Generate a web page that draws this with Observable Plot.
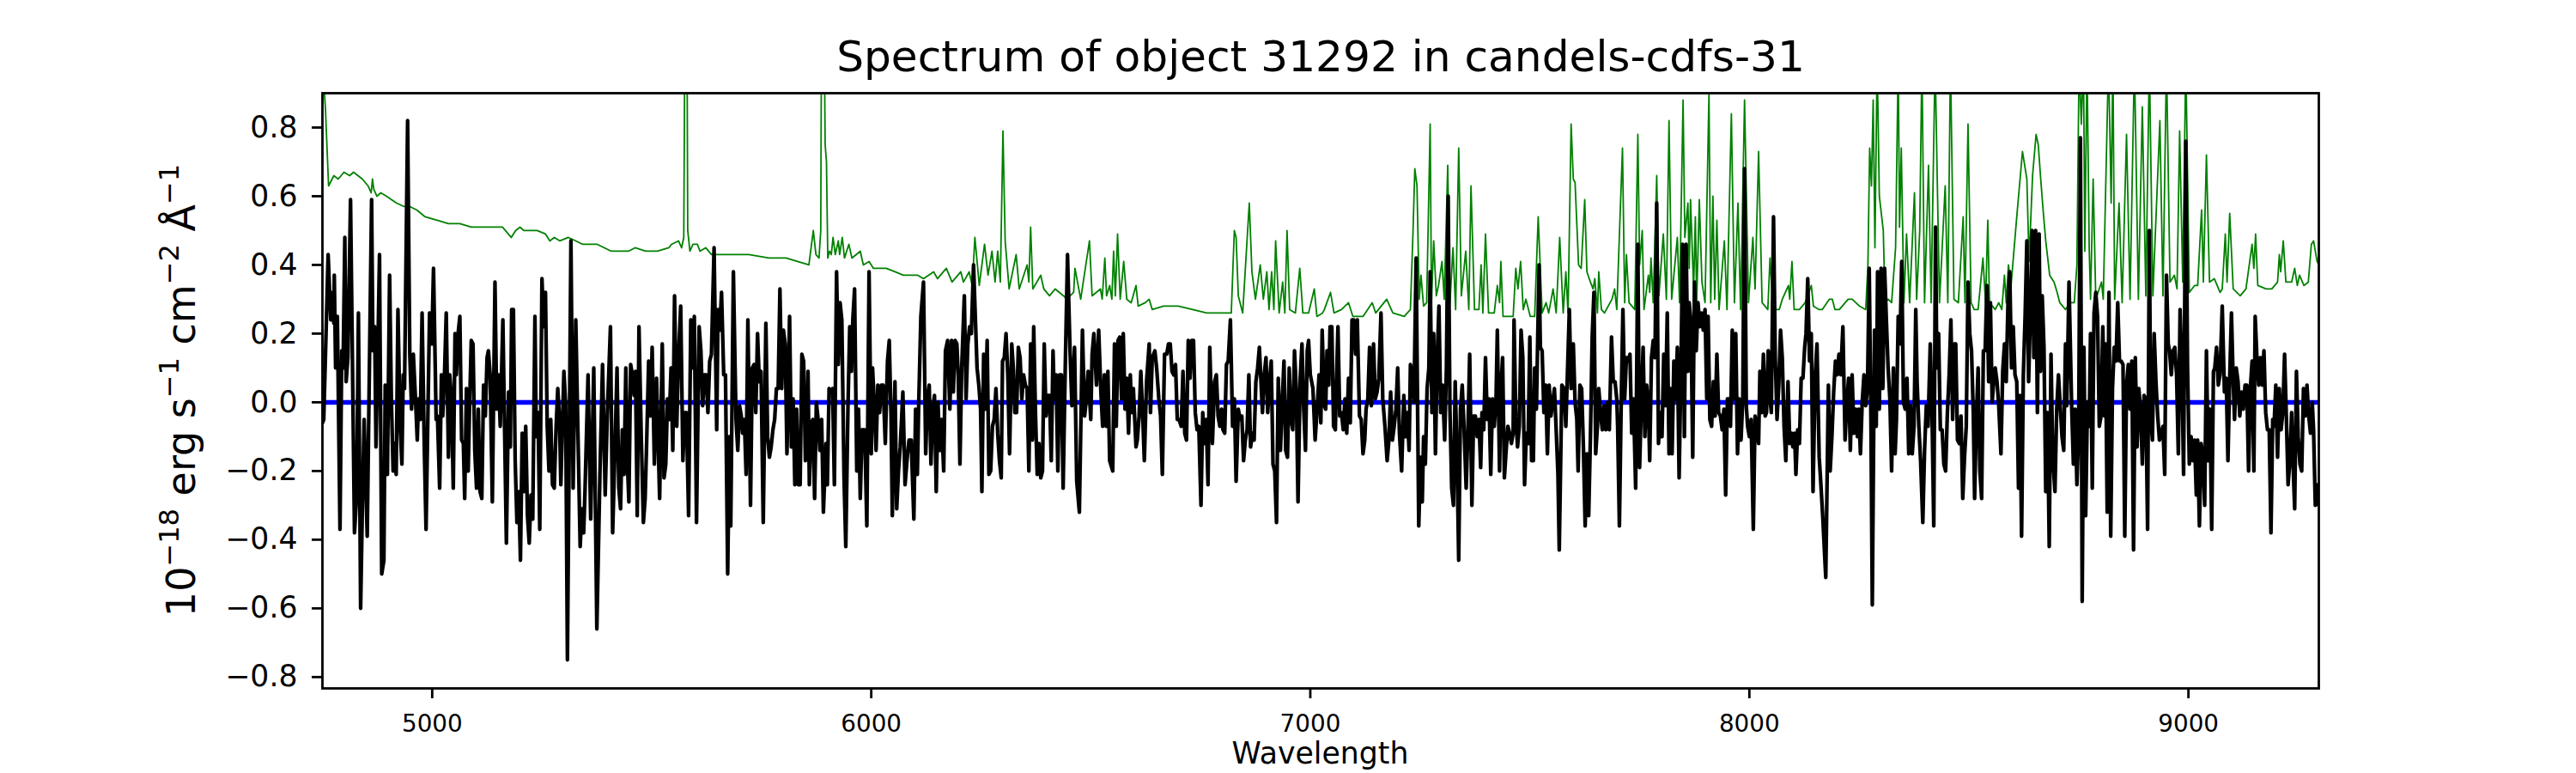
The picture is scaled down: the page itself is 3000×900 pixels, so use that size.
<!DOCTYPE html>
<html><head><meta charset="utf-8">
<script src="https://cdn.jsdelivr.net/npm/d3@7"></script>
<script src="https://cdn.jsdelivr.net/npm/@observablehq/plot@0.6"></script>
<style>body{margin:0;background:#fff;} svg{font-family:"DejaVu Sans";}</style>
</head><body><div id="chart"></div>
<script>
const titleText = "Spectrum of object 31292 in candels-cdfs-31";
const xLabelText = "Wavelength";
const xTicks = [5000, 6000, 7000, 8000, 9000];
const yTicks = [-0.8, -0.6, -0.4, -0.2, 0, 0.2, 0.4, 0.6, 0.8];
const xDomain = [4750, 9297];
const yDomain = [-0.833, 0.9];
const zeroWave = [4750, 9297];
const zeroFlux = [0, 0];

// black: observed spectrum, read in eight wavelength segments
const bwA=[4750,4753,4763,4769,4773,4776,4777,4780,4784,4790,4794,4797,4801,4804,4808,4814,4823,4828,4832,4837,4841,4845,4852,4862,4865,4869,4872,4876,4880,4885,4890,4893,4898,4903,4907,4911,4914,4918,4922,4927,4931,4934,4937,4944,4949,4953,4957,4962,4966,4969,4973,4977,4982,4986,4994,4999,5003,5009,5012,5017,5021,5024,5028,5032,5037,5040,5044,5048,5052,5055,5059,5063,5067,5071,5074,5078,5082,5085,5089,5093,5097,5101,5105,5109,5113,5117,5121,5125,5128,5132,5137,5143,5147,5151,5155,5161,5169,5174,5178,5181,5185,5189,5193,5197,5201,5205,5209,5213,5217,5221,5225,5229,5234,5237,5241,5245,5250,5254,5258,5262,5266,5270,5274,5278,5282,5286,5290,5293,5300,5304,5308,5316,5321,5327];
const bfA=[-0.06,-0.05,0.43,0.24,0.32,0.23,0.37,0.10,0.25,-0.37,0.15,0.10,0.48,0.06,0.13,0.59,-0.38,-0.27,0.26,-0.60,-0.30,-0.05,-0.39,0.59,0.15,0.22,-0.13,0.13,0.43,-0.50,-0.46,0.05,-0.21,0.37,0.01,-0.20,-0.12,-0.21,0.27,-0.07,-0.18,0.08,0.04,0.82,0.14,-0.02,0.14,0.01,-0.11,0.01,-0.05,0.26,-0.13,-0.37,0.26,0.17,0.39,-0.05,-0.04,-0.25,0.08,-0.04,0.08,0.26,-0.16,0.08,0.01,-0.25,0.20,0.08,0.20,0.25,-0.11,-0.12,-0.28,0.04,-0.20,-0.02,0.18,0.17,-0.14,-0.25,-0.02,-0.26,-0.28,0.05,-0.04,0.13,0.15,0.08,-0.29,0.35,-0.02,0.08,-0.07,0.24,-0.41,0.03,-0.13,0.27,0.27,-0.17,-0.35,-0.26,-0.46,-0.09,-0.26,-0.07,-0.33,-0.41,-0.27,-0.34,0.25,-0.10,-0.03,-0.37,0.36,0.22,0.32,-0.07,-0.20,-0.05,-0.24,-0.25,-0.08,0.04,-0.05,-0.24,0.09,-0.01,-0.75,0.47,-0.25,0.24];
const bwB=[5337,5341,5345,5348,5355,5361,5368,5375,5382,5388,5394,5399,5406,5411,5416,5421,5425,5429,5433,5437,5441,5445,5448,5452,5456,5460,5463,5467,5471,5476,5481,5485,5488,5493,5497,5501,5506,5511,5515,5518,5524,5528,5532,5536,5540,5544,5548,5552,5557,5561,5566,5571,5575,5579,5584,5589,5593,5597,5602,5608,5612,5616,5620,5624,5628,5632,5636,5642,5648,5651,5655,5659,5664,5668,5673,5677,5680,5686,5692,5696,5700,5704,5707,5711,5715,5719,5725,5729,5733,5737,5741,5745,5749,5754,5760,5764,5768,5772,5776,5780,5784,5788,5792,5796,5800,5804,5808,5814,5818,5822,5826,5830,5834,5838,5842,5846,5850,5853,5856,5859,5863,5867,5871,5875,5879,5883,5887,5891];
const bfB=[-0.42,-0.31,-0.38,-0.26,0.08,-0.34,0.10,-0.66,-0.21,0.11,-0.27,-0.03,0.22,-0.38,-0.15,0.10,-0.25,-0.31,-0.08,-0.21,0.10,-0.19,-0.29,0.11,0.08,0.02,0.09,-0.33,0.22,-0.09,-0.35,-0.28,-0.14,0.12,-0.04,0.16,-0.18,0.07,-0.13,-0.28,0.17,-0.22,-0.18,0.01,-0.05,0.10,-0.14,0.31,-0.07,0.13,0.28,-0.17,-0.03,-0.03,-0.33,0.24,0.10,0.25,-0.35,0.22,0.15,-0.01,0.08,0.08,-0.03,0.12,0.14,0.45,-0.08,0.27,0.21,0.32,0.08,0.08,-0.50,-0.10,-0.36,0.38,-0.05,-0.14,-0.01,-0.04,-0.09,-0.05,-0.21,0.24,-0.30,0.10,0.11,-0.03,0.20,0.06,0.09,-0.35,0.23,-0.10,-0.16,-0.13,-0.08,-0.05,0.04,0.04,0.33,0.04,0.21,0.17,-0.15,0.25,-0.13,0.01,-0.24,-0.02,-0.24,-0.24,0.14,0.12,-0.17,-0.13,0.09,-0.24,-0.06,-0.05,-0.28,0.00,-0.05,-0.14,-0.05,-0.32];
const bwC=[5897,5900,5904,5908,5912,5916,5921,5925,5929,5933,5938,5942,5947,5951,5955,5958,5962,5967,5971,5975,5979,5985,5990,5995,6000,6003,6007,6011,6015,6019,6023,6027,6032,6037,6041,6045,6048,6054,6058,6062,6066,6072,6077,6082,6086,6091,6097,6101,6105,6108,6113,6119,6124,6128,6132,6136,6140,6144,6148,6152,6156,6160,6165,6169,6174,6179,6183,6187,6191,6195,6198,6202,6206,6212,6216,6220,6224,6228,6233,6237,6241,6245,6249,6252,6256,6260,6264,6268,6272,6276,6280,6284,6288,6292,6296,6299,6303,6307,6311,6315,6320,6324,6327,6331,6335,6339,6343,6347,6351,6355,6359,6363,6367,6370,6374,6378,6382,6386,6390,6394,6398,6402,6406,6410,6414,6417,6421,6425,6429,6433,6437,6442,6447,6453,6457];
const bfC=[-0.12,-0.24,0.04,0.03,0.04,-0.24,0.38,0.11,0.29,0.24,-0.22,-0.42,-0.01,0.22,0.09,0.24,0.33,-0.20,-0.02,-0.28,-0.08,-0.08,-0.36,0.38,-0.15,0.10,-0.01,-0.14,0.05,-0.03,0.05,0.05,-0.12,0.12,0.18,-0.04,-0.33,0.06,-0.31,-0.20,-0.13,0.03,-0.24,-0.16,-0.11,-0.11,-0.34,-0.02,-0.21,-0.01,0.25,0.35,-0.15,0.01,0.05,-0.18,-0.02,0.02,-0.26,0.00,-0.14,-0.05,-0.20,0.15,0.18,-0.02,0.18,0.03,0.18,0.17,0.08,-0.18,0.10,0.31,0.01,0.17,0.22,0.20,0.40,0.25,0.10,0.05,-0.02,-0.26,0.14,-0.02,0.18,-0.21,-0.20,-0.07,-0.05,0.04,-0.09,-0.17,-0.22,0.12,0.13,0.20,0.08,-0.15,0.17,0.09,-0.03,-0.03,0.16,0.13,0.01,0.08,0.05,0.04,-0.20,0.17,-0.11,0.22,-0.03,-0.21,-0.12,-0.22,-0.20,0.17,-0.04,0.02,0.02,-0.17,0.15,0.01,0.08,-0.20,0.08,0.08,-0.25,0.11,0.43,0.14,-0.01];
const bwD=[6463,6468,6474,6481,6486,6490,6494,6500,6503,6507,6513,6518,6523,6527,6531,6535,6539,6543,6550,6554,6558,6562,6566,6570,6574,6578,6582,6586,6590,6593,6597,6603,6606,6610,6614,6618,6622,6627,6633,6636,6640,6646,6650,6655,6659,6663,6668,6673,6677,6681,6685,6689,6693,6697,6701,6706,6710,6714,6718,6722,6726,6730,6734,6738,6742,6746,6751,6755,6759,6763,6767,6771,6777,6782,6786,6790,6794,6798,6801,6805,6809,6813,6818,6823,6827,6831,6836,6840,6844,6848,6852,6856,6860,6864,6868,6872,6876,6880,6884,6888,6891,6895,6899,6903,6907,6911,6915,6919,6923,6927,6932,6936,6940,6944,6948,6952,6956,6960,6964,6968,6972,6977,6981,6985,6989,6993,6996,7000,7006,7011,7015,7020,7024,7027];
const bfD=[0.16,-0.23,-0.32,0.21,-0.04,0.01,0.09,-0.05,0.14,0.20,0.05,0.21,0.03,-0.07,0.08,-0.07,0.09,-0.17,-0.20,0.17,-0.07,0.18,0.19,0.01,0.20,-0.02,0.07,-0.09,0.08,-0.03,0.04,-0.13,-0.11,-0.04,0.09,-0.03,-0.17,0.06,0.17,-0.03,0.13,0.15,0.10,0.01,-0.04,-0.21,0.14,0.14,0.17,0.17,0.09,0.08,0.11,-0.05,-0.05,-0.07,0.09,-0.09,-0.11,0.18,0.07,0.18,0.18,-0.03,-0.08,-0.07,-0.30,-0.03,-0.12,-0.05,-0.24,0.16,-0.12,0.06,0.08,-0.04,-0.07,-0.02,-0.08,-0.09,0.11,0.12,0.24,-0.07,0.01,-0.23,-0.02,-0.05,-0.04,-0.17,-0.11,-0.08,0.08,-0.13,-0.09,-0.11,0.06,0.10,0.16,0.05,-0.03,0.08,0.13,-0.03,0.06,0.12,-0.18,-0.20,-0.35,0.07,-0.14,0.00,0.12,-0.14,-0.16,0.10,-0.05,-0.08,0.15,0.04,-0.29,0.07,0.17,-0.02,-0.14,0.15,0.18,0.08,0.04,-0.11,-0.03,0.08,-0.06,0.21];
const bwE=[7032,7035,7038,7042,7045,7049,7053,7057,7060,7063,7067,7071,7075,7079,7083,7087,7091,7095,7099,7103,7107,7112,7116,7120,7124,7127,7131,7135,7139,7144,7148,7152,7156,7161,7165,7170,7175,7179,7183,7187,7191,7195,7199,7203,7208,7213,7217,7221,7225,7228,7232,7236,7241,7247,7251,7255,7258,7262,7266,7270,7273,7277,7281,7285,7289,7293,7297,7301,7306,7310,7314,7318,7322,7326,7330,7334,7338,7342,7346,7350,7355,7359,7363,7368,7372,7376,7380,7384,7388,7391,7395,7399,7403,7407,7411,7415,7419,7423,7426,7431,7434,7438,7442,7446,7450,7454,7458,7462,7464,7468,7472,7476,7480,7484,7488,7492,7496,7500,7504,7508,7511,7515,7521,7524,7528,7532,7536,7540,7544,7548,7552,7556,7560,7564,7567,7573,7578,7582,7590,7594];
const bfE=[-0.01,-0.02,0.15,0.05,0.22,0.22,-0.07,-0.08,0.08,0.22,-0.04,-0.03,-0.08,0.01,-0.09,0.07,-0.06,0.24,0.24,0.14,0.24,-0.04,-0.05,-0.15,-0.11,-0.02,0.01,0.16,-0.01,0.17,0.01,0.03,0.07,0.26,0.01,-0.07,-0.17,-0.11,0.03,-0.11,-0.07,-0.02,0.10,-0.09,-0.20,0.02,-0.10,-0.03,-0.14,0.11,0.08,0.00,0.42,-0.36,-0.16,-0.29,-0.10,-0.18,0.04,0.10,0.38,-0.03,0.20,-0.15,0.13,0.28,-0.03,0.05,-0.11,0.10,0.60,-0.02,-0.25,-0.30,0.06,-0.15,-0.46,-0.02,0.05,-0.07,-0.25,-0.08,0.14,-0.30,-0.04,-0.04,-0.10,-0.05,-0.19,-0.03,-0.08,0.13,-0.05,0.01,-0.21,0.01,-0.07,0.01,0.21,-0.20,0.04,0.13,-0.22,-0.14,-0.07,-0.09,-0.12,-0.09,0.24,-0.04,-0.13,-0.07,0.21,0.13,-0.24,-0.09,-0.12,0.19,-0.17,-0.17,0.10,-0.02,0.40,0.16,0.15,-0.03,0.05,-0.15,0.05,-0.04,0.00,0.04,-0.08,-0.21,-0.43,0.05,0.04,-0.07,0.27,0.04];
const bwF=[7599,7603,7607,7610,7614,7618,7622,7626,7630,7634,7638,7642,7646,7650,7654,7657,7661,7665,7669,7673,7677,7681,7686,7690,7694,7698,7700,7704,7708,7712,7716,7720,7724,7728,7732,7736,7741,7746,7750,7754,7758,7762,7766,7770,7773,7777,7781,7785,7789,7793,7797,7801,7805,7809,7813,7817,7820,7824,7828,7832,7836,7840,7844,7848,7852,7856,7860,7863,7867,7871,7875,7879,7883,7887,7891,7895,7899,7903,7906,7910,7914,7918,7922,7926,7930,7934,7938,7942,7946,7950,7953,7957,7961,7965,7969,7973,7977,7981,7985,7989,7993,7996,8000,8004,8009,8013,8017,8021,8024,8028,8032,8036,8039,8043,8047,8050,8055,8059,8063,8067,8071,8075,8079,8083,8088,8092,8096,8099,8103,8106,8110,8114,8118,8122,8126,8129,8133,8137,8141,8145,8150,8154,8159];
const bfF=[0.17,0.00,-0.05,-0.20,0.05,0.04,-0.13,-0.36,-0.15,-0.33,-0.10,0.19,0.32,-0.15,-0.07,0.04,-0.03,-0.08,-0.01,-0.08,0.00,-0.08,0.19,0.06,0.06,0.01,-0.07,-0.36,-0.01,0.27,0.01,0.13,0.12,0.14,-0.09,0.01,-0.25,0.46,-0.19,0.00,0.16,-0.10,0.05,-0.01,-0.17,0.13,0.18,0.13,0.58,-0.12,-0.03,-0.10,0.14,-0.01,0.26,-0.15,0.04,-0.15,0.12,0.01,0.16,-0.22,0.08,0.46,-0.10,0.46,0.09,0.29,0.23,-0.16,0.35,0.15,0.29,0.22,0.26,0.21,0.27,0.01,0.25,-0.05,-0.07,0.06,-0.04,0.14,-0.03,-0.04,-0.08,-0.02,-0.27,0.01,0.01,-0.07,0.21,0.01,0.20,-0.15,0.01,-0.11,0.01,0.68,-0.01,-0.07,-0.10,-0.05,-0.37,-0.04,-0.07,-0.12,0.09,-0.03,0.14,-0.04,-0.03,0.15,0.01,-0.03,0.54,0.13,-0.05,0.05,0.21,0.13,-0.07,-0.17,0.06,-0.12,-0.09,-0.13,-0.09,-0.21,-0.08,-0.12,0.07,0.07,0.16,0.20,0.36,0.12,0.20,-0.26,0.08,0.17,-0.16];
const bwG=[8162,8167,8174,8180,8184,8188,8192,8196,8200,8204,8208,8213,8218,8222,8226,8230,8234,8238,8242,8246,8249,8253,8257,8261,8265,8269,8273,8277,8280,8285,8289,8292,8296,8300,8304,8308,8312,8316,8320,8324,8328,8332,8335,8339,8343,8347,8351,8355,8359,8363,8367,8371,8375,8379,8382,8386,8390,8395,8399,8403,8407,8412,8416,8420,8424,8427,8431,8435,8439,8443,8447,8451,8455,8459,8463,8467,8470,8474,8478,8482,8486,8490,8494,8498,8502,8506,8510,8513,8517,8521,8525,8529,8533,8537,8541,8545,8549,8553,8557,8560,8564,8568,8573,8577,8581,8585,8589,8593,8597,8601,8605,8609,8613,8616,8620,8624,8628,8632,8636,8640,8644,8648,8652,8656,8660,8663,8667,8671,8675,8679,8683,8687,8691,8696,8700,8704,8708,8712,8716,8720,8723,8728];
const bfG=[-0.22,-0.33,-0.51,0.05,-0.20,-0.10,0.03,0.12,0.08,0.14,0.08,0.22,-0.11,0.00,0.07,-0.14,0.08,-0.09,-0.02,-0.10,-0.02,-0.15,0.00,0.08,-0.01,0.04,0.39,-0.07,-0.59,0.21,-0.07,0.38,-0.02,0.39,0.04,0.39,0.24,0.10,0.01,-0.20,0.10,-0.15,-0.05,0.25,0.17,0.41,0.00,-0.02,0.07,-0.15,-0.01,-0.15,-0.07,0.27,0.06,-0.07,-0.17,-0.35,-0.14,-0.01,-0.07,0.17,-0.03,-0.36,0.51,0.10,0.20,-0.08,-0.08,-0.18,-0.20,-0.03,0.08,0.24,-0.05,0.17,0.17,-0.11,-0.12,-0.04,-0.28,-0.16,-0.07,0.35,0.20,0.15,-0.03,-0.28,-0.05,0.10,-0.20,-0.28,0.15,0.15,0.34,0.06,0.29,0.00,0.07,0.10,0.06,-0.01,-0.15,0.09,0.17,0.06,0.29,0.38,0.10,0.22,0.08,0.06,-0.25,0.02,-0.39,0.08,0.25,0.47,0.06,0.26,0.50,0.13,0.50,-0.03,0.49,0.09,0.31,0.16,-0.26,-0.03,-0.42,0.14,-0.16,-0.26,-0.02,0.08,-0.01,-0.10,-0.14,0.17,-0.01,0.35];
const bwH=[8734,8738,8742,8746,8750,8754,8758,8762,8766,8770,8774,8777,8781,8785,8789,8793,8797,8801,8805,8809,8811,8815,8819,8823,8827,8831,8835,8839,8843,8847,8851,8855,8859,8863,8867,8871,8875,8879,8883,8887,8891,8895,8899,8903,8907,8911,8914,8918,8922,8926,8930,8934,8938,8942,8946,8950,8954,8957,8961,8965,8969,8973,8977,8981,8985,8989,8994,8998,9002,9006,9010,9014,9018,9021,9025,9029,9033,9037,9041,9045,9049,9053,9057,9060,9064,9068,9072,9077,9082,9086,9090,9094,9098,9102,9105,9109,9113,9117,9121,9125,9129,9133,9137,9141,9145,9149,9152,9156,9160,9164,9168,9172,9176,9180,9184,9188,9192,9195,9199,9203,9207,9211,9215,9219,9223,9227,9231,9235,9238,9242,9246,9250,9254,9258,9262,9266,9270,9274,9278,9282,9285,9289,9294,9297];
const bfH=[-0.01,-0.18,-0.02,-0.24,-0.08,0.77,-0.58,0.16,-0.33,0.00,-0.07,0.20,-0.25,0.26,0.32,0.25,-0.07,-0.04,0.22,-0.04,0.17,-0.32,0.32,-0.39,0.04,0.16,0.12,0.29,0.12,0.12,0.11,-0.39,0.05,0.11,-0.02,0.12,-0.43,0.13,-0.13,0.04,-0.02,-0.18,0.02,0.01,-0.37,0.50,-0.04,-0.11,0.20,0.06,-0.04,-0.11,-0.09,-0.07,-0.21,0.37,0.17,0.15,0.08,0.15,0.16,0.08,-0.15,0.27,0.10,-0.21,0.76,0.10,-0.18,-0.10,-0.17,-0.11,-0.27,-0.11,-0.36,-0.12,-0.16,-0.30,0.15,-0.17,-0.02,-0.37,0.09,0.10,0.16,0.05,0.08,0.28,0.03,0.07,-0.17,0.07,0.26,0.06,-0.05,0.10,0.06,-0.04,0.03,-0.02,0.05,0.05,-0.20,0.04,0.12,-0.20,0.25,0.13,0.05,0.13,0.05,0.15,-0.03,-0.08,-0.08,-0.38,-0.05,-0.07,0.05,-0.16,0.04,-0.08,-0.03,0.14,-0.04,-0.24,-0.17,-0.03,-0.17,-0.31,0.09,-0.10,-0.18,-0.20,0.04,-0.04,0.05,-0.04,-0.09,0.00,-0.08,-0.30,-0.24,-0.30];

// green: model / sky spectrum
const gwA=[4750,4757,4764,4776,4786,4799,4812,4821,4841,4854,4861,4864,4867,4874,4883,4896,4919,4936,4949,4965,4984,5011,5037,5063,5089,5115,5141,5160,5180,5190,5200,5209,5219,5239,5258,5268,5278,5291,5310,5327];
const gfA=[1.0,0.85,0.63,0.66,0.65,0.67,0.66,0.67,0.65,0.63,0.61,0.65,0.62,0.60,0.61,0.60,0.58,0.57,0.57,0.56,0.54,0.53,0.52,0.52,0.51,0.51,0.51,0.51,0.48,0.50,0.51,0.50,0.50,0.50,0.49,0.47,0.48,0.47,0.48,0.47];
const gwB=[5343,5376,5408,5447,5462,5486,5513,5539,5545,5561,5568,5573,5576,5580,5582,5587,5594,5604,5610,5623,5636,5656,5695,5721,5767,5806,5858,5868,5874,5881,5885];
const gfB=[0.46,0.46,0.44,0.44,0.45,0.44,0.44,0.45,0.46,0.47,0.45,0.48,1.2,1.2,0.5,0.44,0.46,0.46,0.44,0.45,0.43,0.43,0.43,0.43,0.42,0.42,0.40,0.50,0.43,0.42,0.50];
const gwC=[5887,5892,5895,5898,5901,5905,5909,5913,5918,5925,5928,5934,5939,5949,5956,5975,5982,5995,6005,6021,6034,6054,6073,6106,6119,6142,6151,6171,6184,6204,6210,6223,6230,6236,6246,6258,6266,6275,6282,6288,6294,6300,6305,6314,6330,6337,6355,6359,6363,6368,6386,6393,6406,6419,6438,6445,6461];
const gfC=[1.2,1.2,0.75,0.70,0.42,0.44,0.43,0.48,0.43,0.47,0.43,0.48,0.42,0.46,0.42,0.44,0.40,0.41,0.39,0.39,0.39,0.38,0.37,0.37,0.36,0.38,0.36,0.39,0.35,0.38,0.35,0.38,0.34,0.48,0.34,0.46,0.37,0.44,0.35,0.44,0.35,0.79,0.47,0.33,0.43,0.33,0.40,0.35,0.51,0.33,0.37,0.33,0.31,0.33,0.31,0.30,0.32];
const gwD=[6464,6477,6497,6503,6522,6526,6532,6536,6543,6548,6552,6556,6561,6567,6575,6582,6592,6603,6608,6624,6633,6640,6666,6699,6732,6764,6820,6824,6827,6831,6836,6846,6861,6867,6875,6886,6893,6901,6906,6912,6917,6921,6929,6937,6942,6947,6953,6966,6976,6983,6996,7009,7015,7028];
const gfD=[0.39,0.30,0.47,0.31,0.33,0.30,0.42,0.31,0.34,0.30,0.44,0.31,0.49,0.30,0.41,0.30,0.29,0.34,0.28,0.29,0.30,0.27,0.28,0.28,0.27,0.26,0.26,0.40,0.50,0.48,0.31,0.26,0.58,0.38,0.30,0.40,0.30,0.38,0.27,0.38,0.27,0.47,0.26,0.35,0.26,0.50,0.27,0.26,0.39,0.26,0.26,0.33,0.25,0.26];
const gwE=[7032,7046,7054,7071,7087,7097,7120,7141,7149,7174,7188,7214,7228,7234,7238,7243,7248,7252,7258,7265,7273,7276,7281,7287,7292,7300,7305,7313,7318,7325,7331,7338,7344,7354,7361,7366,7374,7384,7389,7393,7399,7406,7419,7426,7431,7434,7439,7462,7468,7473,7479,7485,7491,7501,7511,7519,7528,7537,7543,7553,7560,7568,7576,7582,7587];
const gfE=[0.27,0.32,0.26,0.27,0.29,0.25,0.25,0.29,0.26,0.30,0.26,0.25,0.27,0.50,0.68,0.63,0.30,0.37,0.28,0.29,0.81,0.29,0.47,0.31,0.34,0.41,0.30,0.69,0.29,0.45,0.27,0.74,0.31,0.44,0.27,0.63,0.27,0.27,0.40,0.26,0.49,0.26,0.26,0.34,0.29,0.41,0.25,0.25,0.39,0.33,0.41,0.27,0.30,0.25,0.25,0.54,0.26,0.29,0.26,0.33,0.26,0.48,0.26,0.38,0.26];
const gwF=[7594,7599,7603,7611,7617,7625,7630,7638,7644,7648,7654,7657,7663,7670,7687,7693,7698,7711,7716,7720,7726,7739,7746,7750,7756,7760,7770,7773,7776,7781,7789,7794,7804,7811,7817,7823,7836,7841,7849,7853,7860,7863,7866,7873,7877,7880,7886,7892,7899,7908,7912,7917,7921,7926,7931,7943,7949,7959,7966,7974,7980,7989,7998,8008,8013,8021,8029,8042,8047,8054,8068,8075,8089,8092,8097,8102,8114,8127,8141,8146,8159];
const gfF=[0.81,0.65,0.64,0.40,0.39,0.59,0.38,0.35,0.33,0.36,0.26,0.38,0.27,0.26,0.30,0.33,0.27,0.74,0.29,0.43,0.29,0.27,0.78,0.40,0.50,0.27,0.37,0.32,0.42,0.29,0.66,0.31,0.49,0.30,0.82,0.30,0.48,0.29,0.88,0.48,0.58,0.39,0.59,0.33,0.54,0.29,0.59,0.35,0.29,0.90,0.29,0.60,0.30,0.53,0.27,0.47,0.27,0.84,0.29,0.58,0.27,0.88,0.29,0.48,0.33,0.73,0.29,0.27,0.42,0.27,0.27,0.30,0.34,0.30,0.41,0.27,0.27,0.29,0.34,0.28,0.27];
const gwG=[8166,8182,8189,8195,8205,8225,8234,8251,8265,8270,8274,8278,8282,8286,8291,8296,8305,8309,8316,8324,8333,8339,8342,8346,8352,8358,8365,8376,8381,8388,8393,8399,8408,8414,8423,8433,8446,8452,8458,8466,8476,8487,8491,8498,8505,8512,8521,8532,8538,8543,8547,8560,8568,8575,8581,8585,8590,8596,8609,8622,8632,8637,8645,8653,8658,8663,8669,8675,8684,8694,8701,8707,8720,8730];
const gfG=[0.27,0.30,0.30,0.27,0.27,0.30,0.30,0.28,0.27,0.40,0.74,0.63,0.88,0.45,1.0,0.60,0.50,0.29,0.30,0.29,0.45,1.0,0.51,0.74,0.29,0.49,0.29,0.61,0.30,0.50,1.0,0.29,0.69,0.29,1.0,0.29,0.63,0.29,1.0,0.30,0.29,0.54,0.29,0.81,0.29,0.27,0.27,0.42,0.29,0.53,0.29,0.27,0.29,0.27,0.37,0.29,0.40,0.34,0.54,0.73,0.65,0.41,0.66,0.78,0.75,0.66,0.56,0.47,0.37,0.35,0.32,0.29,0.27,0.29];
const gwH=[8740,8746,8751,8756,8761,8764,8769,8774,8777,8783,8789,8802,8806,8818,8824,8828,8832,8842,8849,8859,8867,8877,8886,8895,8903,8911,8919,8935,8942,8950,8958,8968,8974,8980,8987,8994,9002,9014,9021,9030,9034,9041,9048,9059,9072,9077,9084,9088,9094,9102,9118,9131,9145,9149,9153,9158,9177,9190,9203,9207,9210,9216,9222,9235,9242,9248,9253,9263,9273,9280,9285,9293,9297];
const gfH=[0.29,0.40,1.0,0.81,1.0,0.44,1.0,0.45,0.30,0.65,0.30,0.35,0.30,1.0,0.58,1.0,0.30,0.58,0.29,0.78,0.30,1.0,0.30,0.86,0.31,1.0,0.31,0.82,0.31,1.0,0.35,0.37,0.33,0.79,0.35,1.0,0.32,0.34,0.34,0.56,0.35,0.72,0.35,0.36,0.32,0.33,0.49,0.35,0.55,0.33,0.31,0.33,0.46,0.39,0.49,0.34,0.33,0.33,0.35,0.43,0.38,0.47,0.35,0.35,0.39,0.34,0.37,0.34,0.35,0.46,0.47,0.41,0.40];

function rows(ws, fs) {
  if (ws.length !== fs.length) throw new Error("length mismatch " + ws.length + " vs " + fs.length + " starting " + ws[0]);
  return ws.map((w, i) => ({w, f: fs[i]}));
}
const blackRows = [[bwA,bfA],[bwB,bfB],[bwC,bfC],[bwD,bfD],[bwE,bfE],[bwF,bfF],[bwG,bfG],[bwH,bfH]].flatMap(([w,f]) => rows(w,f));
const greenRows = [[gwA,gfA],[gwB,gfB],[gwC,gfC],[gwD,gfD],[gwE,gfE],[gwF,gfF],[gwG,gfG],[gwH,gfH]].flatMap(([w,f]) => rows(w,f));
const zeroRows = rows(zeroWave, zeroFlux);

const yFmt = d => (d < 0 ? "\u2212" : "") + Math.abs(d).toFixed(1);

const chart = Plot.plot({
  width: 3000, height: 900,
  marginLeft: 375, marginRight: 300, marginTop: 108, marginBottom: 99,
  style: {fontFamily: "DejaVu Sans", background: "#fff", color: "#000", overflow: "visible"},
  x: {domain: xDomain, label: null},
  y: {domain: yDomain, label: null},
  marks: [
    Plot.line(greenRows, {x: "w", y: "f", stroke: "#008000", strokeWidth: 1.8, clip: true}),
    Plot.line(zeroRows, {x: "w", y: "f", stroke: "#0000ff", strokeWidth: 5.5, clip: true}),
    Plot.line(blackRows, {x: "w", y: "f", stroke: "#000", strokeWidth: 4.3, strokeLinejoin: "round", clip: true}),
    Plot.frame({stroke: "#000", strokeWidth: 2.8}),
    Plot.axisX({ticks: xTicks, tickSize: 12, tickPadding: 19, fontSize: 27.8, strokeWidth: 2.8, label: null, tickFormat: d => String(d)}),
    Plot.axisY({ticks: yTicks, tickSize: 12, tickPadding: 17, fontSize: 34.7, strokeWidth: 2.8, label: null, tickFormat: yFmt})
  ]
});
document.getElementById("chart").appendChild(chart);

const svg = d3.select(chart);
svg.append("text").attr("x", 1538).attr("y", 83).attr("text-anchor", "middle")
  .attr("font-size", 50.2).attr("fill", "#000").style("font-family", "DejaVu Sans").text(titleText);
svg.append("text").attr("x", 1537.5).attr("y", 889).attr("text-anchor", "middle")
  .attr("font-size", 34.7).attr("fill", "#000").style("font-family", "DejaVu Sans").text(xLabelText);

const yLabelParts = [["10", false], ["\u221218", true], [" erg s", false], ["\u22121", true], [" cm", false], ["\u22122", true], [" \u00c5", false], ["\u22121", true]];
const yl = svg.append("text").attr("transform", "translate(227,454.5) rotate(-90)")
  .attr("text-anchor", "middle").attr("fill", "#000").style("font-family", "DejaVu Sans").attr("font-size", 46);
let raised = false;
for (const [t, sup] of yLabelParts) {
  const ts = yl.append("tspan").text(t);
  if (sup) { ts.attr("font-size", 32).attr("dy", raised ? 0 : -19); raised = true; }
  else { ts.attr("font-size", 46).attr("dy", raised ? 19 : 0); raised = false; }
}
</script>
</body></html>
